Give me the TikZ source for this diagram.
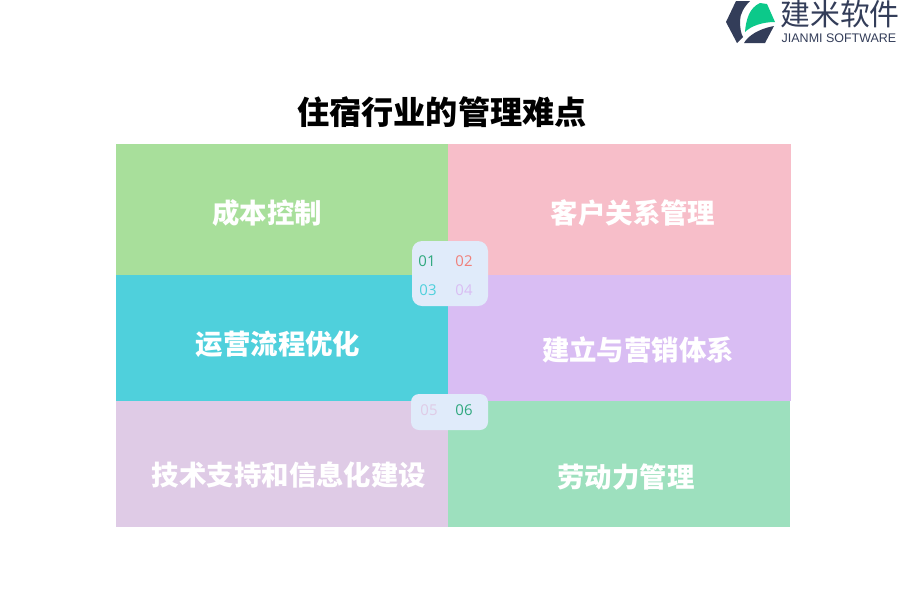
\documentclass[tikz,border=0pt]{standalone}
\usepackage{xcolor}
\usepackage{fontspec}
\setmainfont{Noto Sans CJK SC}
\newfontfamily\latinfont{Liberation Sans}
\newfontfamily\digitfont{Open Sans}
\usepackage{tikz}
\definecolor{panelGreen}{HTML}{A8DF9B}
\definecolor{panelPink}{HTML}{F7BEC9}
\definecolor{panelTeal}{HTML}{4FD0DC}
\definecolor{panelPurple}{HTML}{D9BDF3}
\definecolor{panelLilac}{HTML}{DFCBE6}
\definecolor{panelMint}{HTML}{9DE0BE}
\definecolor{badgeBlue}{HTML}{E0EBFA}
\definecolor{digitGreen}{HTML}{2FA87E}
\definecolor{digitRed}{HTML}{F0807A}
\definecolor{logoNavy}{HTML}{333D59}
\definecolor{logoGreen}{HTML}{0CC98A}
\tikzset{
  panel/.style={inner sep=0pt, outer sep=0pt, minimum width=#1*.02cm, anchor=north west},
  panel/.default=332,
  panellabel/.style={text=white, font=\fontsize{15.6}{18}\selectfont\bfseries},
  badge/.style={fill=badgeBlue, rounded corners=#1},
  digit/.style={font=\digitfont\fontsize{8.5}{10}\selectfont}
}
\begin{document}
\begin{tikzpicture}[x=.02cm, y=-.02cm]
  \useasboundingbox (0,0) rectangle (900,600);
  \fill[white] (0,0) rectangle (900,600);

  \node[font=\fontsize{18.3}{22}\selectfont\bfseries, text=black] (title) at (442,112) {住宿行业的管理难点};

  % panels
  \node[panel=332, minimum height=131*.02cm, fill=panelGreen] (cost) at (116,144) {};
  \node[panel=343, minimum height=131*.02cm, fill=panelPink] (client) at (448,144) {};
  \node[panel=332, minimum height=126*.02cm, fill=panelTeal] (flow) at (116,275) {};
  \node[panel=343, minimum height=126*.02cm, fill=panelPurple] (sales) at (448,275) {};
  \node[panel=332, minimum height=126*.02cm, fill=panelLilac] (tech) at (116,401) {};
  \node[panel=342, minimum height=126*.02cm, fill=panelMint] (labor) at (448,401) {};

  \node[panellabel] (costlabel) at (267,213) {成本控制};
  \node[panellabel] (clientlabel) at (633,213) {客户关系管理};
  \node[panellabel] (flowlabel) at (278,344) {运营流程优化};
  \node[panellabel] (saleslabel) at (638,350) {建立与营销体系};
  \node[panellabel] (techlabel) at (289,475) {技术支持和信息化建设};
  \node[panellabel] (laborlabel) at (626,477) {劳动力管理};

  % number badges
  \fill[badge=.2cm] (412,241) rectangle (488,306);
  \fill[badge=.16cm] (411,394) rectangle (488,430);
  \node[digit, text=digitGreen] (n1) at (427,261) {01};
  \node[digit, text=digitRed] (n2) at (464,261) {02};
  \node[digit, text=panelTeal] (n3) at (428,290) {03};
  \node[digit, text=panelPurple] (n4) at (464,290) {04};
  \node[digit, text=panelLilac] (n5) at (429,410) {05};
  \node[digit, text=digitGreen] (n6) at (464,410) {06};

  % logo
  \fill[logoNavy] (726,22) -- (736,1) -- (750,1) .. controls (744,7) and (740,14) .. (740,21) .. controls (740,28) and (741,34) .. (743,37) -- (737,43) -- cycle;
  \fill[logoGreen] (745,32) .. controls (746,20) and (749,8) .. (760,3) -- (767,4) -- (775,22) .. controls (762,22) and (751,26) .. (745,32) -- cycle;
  \fill[logoNavy] (744,43) .. controls (748,36) and (758,29) .. (774,26) -- (765,43) -- cycle;
  \node[font=\fontsize{17}{20}\selectfont, text=logoNavy] (logoname) at (840,14) {建米软件};
  \node[font=\latinfont\fontsize{7.1}{8}\selectfont, text=logoNavy] (logotag) at (839,38) {JIANMI SOFTWARE};
\end{tikzpicture}
\end{document}
